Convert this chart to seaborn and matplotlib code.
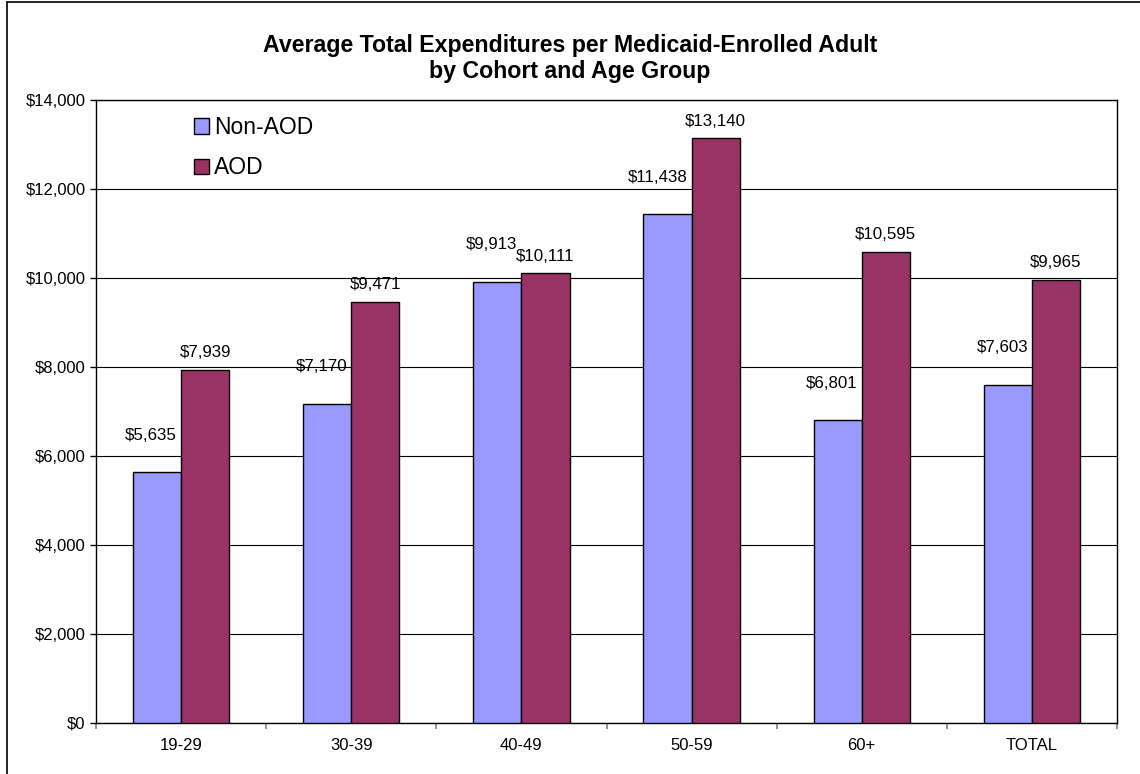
import pandas as pd
import matplotlib.pyplot as plt
import numpy as np
import seaborn as sns
from matplotlib.lines import Line2D
from matplotlib.patches import Patch

age_groups = ['19-29', '30-39', '40-49', '50-59', '60+', 'TOTAL']
non_aod = [5635, 7170, 9913, 11438, 6801, 7603]
aod = [7939, 9471, 10111, 13140, 10595, 9965]
cohorts = ['Non-AOD', 'AOD']
colors = ['#9999FF', '#993366']

df = pd.DataFrame({
    'Age': age_groups * 2,
    'Cohort': ['Non-AOD'] * len(age_groups) + ['AOD'] * len(age_groups),
    'Spend': non_aod + aod,
})

sns.set_style('white')
plt.rcParams['font.family'] = ['Liberation Sans', 'DejaVu Sans']
plt.rcParams['text.color'] = 'black'
plt.rcParams['xtick.labelcolor'] = 'black'
plt.rcParams['ytick.labelcolor'] = 'black'

fig = plt.figure(figsize=(11.4, 7.74), dpi=100)
ax = fig.add_axes([96 / 1140, 51 / 774, 1021 / 1140, 623 / 774])

bw = 0.566
sns.barplot(data=df, x='Age', y='Spend', hue='Cohort', order=age_groups,
            hue_order=cohorts, palette=colors, width=bw, saturation=1,
            edgecolor='black', linewidth=1, ax=ax, legend=False, zorder=3)

ax.set_ylim(0, 14000)
ax.set_xlim(-0.5, 5.5)
ax.set_yticks(np.arange(0, 14001, 2000))
ax.set_yticklabels(['${:,}'.format(v) for v in range(0, 14001, 2000)], fontsize=12)
ax.yaxis.grid(True, color='black', linewidth=0.8, zorder=0)
ax.set_axisbelow(True)
ax.set_xlabel('')
ax.set_ylabel('')
ax.tick_params(axis='x', length=0, labelsize=12, pad=11, labelcolor='black')
ax.tick_params(axis='y', left=True, length=4.5, width=1, color='black', direction='out', pad=3,
               labelcolor='black')
ax.set_xticks(np.arange(-0.5, 6.0, 1), minor=True)
ax.tick_params(axis='x', which='minor', bottom=True, length=4, width=1.2, color='#808080', direction='out')
for s in ax.spines.values():
    s.set_color('black')
    s.set_linewidth(1)

# value labels: Non-AOD right-aligned near its bar's right edge, AOD centred
for j, v in enumerate(non_aod):
    ax.annotate('${:,}'.format(v), (j, v), xytext=(-4, 37), color='black',
                textcoords='offset pixels', ha='right', va='center', fontsize=12.2)
for j, v in enumerate(aod):
    ax.annotate('${:,}'.format(v), (j + bw / 4, v), xytext=(0, 17), color='black',
                textcoords='offset pixels', ha='center', va='center', fontsize=12.2)

handles = [Patch(facecolor=colors[0], edgecolor='black'),
           Patch(facecolor=colors[1], edgecolor='black')]
ax.legend(handles, cohorts, loc='upper left', bbox_to_anchor=(0.080, 1.0), frameon=False,
          fontsize=16.5, handlelength=0.65, handleheight=0.65, handletextpad=0.25,
          labelspacing=0.75, borderaxespad=0.3, labelcolor='black')

fig.text(0.5, 1 - 58.5 / 774, 'Average Total Expenditures per Medicaid-Enrolled Adult\nby Cohort and Age Group',
         ha='center', va='center', fontsize=16.7, fontweight='bold', linespacing=1.12, color='black')

# outer chart border (left and top edges)
fig.add_artist(Line2D([7 / 1140, 7 / 1140], [0, 1 - 2 / 774], color='black', linewidth=1.2, transform=fig.transFigure))
fig.add_artist(Line2D([7 / 1140, 1], [1 - 2 / 774, 1 - 2 / 774], color='black', linewidth=1.2, transform=fig.transFigure))

fig.savefig('out.png', dpi=100, facecolor='white')
